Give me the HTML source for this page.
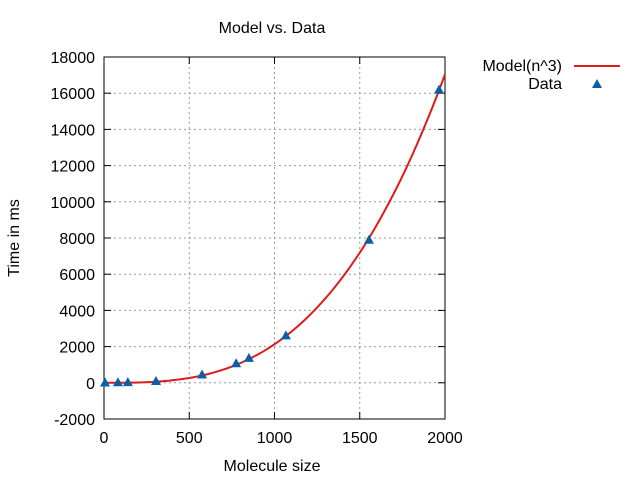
<!DOCTYPE html>
<html><head><meta charset="utf-8"><style>
body{margin:0;background:#fff}
svg{display:block;font-family:"Liberation Sans",sans-serif;font-size:16px}
</style></head><body>
<svg id="c" width="640" height="480">
<text x="272" y="33" text-anchor="middle">Model vs. Data</text>
<text x="272" y="471" text-anchor="middle">Molecule size</text>
<text transform="translate(19,238) rotate(-90)" text-anchor="middle">Time in ms</text>
<g id="grid"></g><g id="ticks"></g>
<rect x="104" y="57" width="341" height="362" fill="none" stroke="#000" stroke-width="1"/>
<g id="series"></g>
<g>
<text x="562" y="71" text-anchor="end">Model(n^3)</text>
<line x1="574" y1="66" x2="620" y2="66" stroke="#e01a1a" stroke-width="2"/>
<text x="562" y="89" text-anchor="end">Data</text>
<polygon points="597,79 602,88 592,88" fill="#0b5fa8"/>
</g>
</svg>
<script>
const xTicks=[0,500,1000,1500,2000];
const yTicks=[-2000,0,2000,4000,6000,8000,10000,12000,14000,16000,18000];
const dataX=[6,82,140,305,575,775,850,1067,1554,1965];
const dataY=[20,30,40,100,460,1080,1380,2620,7900,16200];
const modelCoef=[2.13e-6];
const L=104,R=445,T=57,B=419;
const sx=v=>L+(v-0)/2000*(R-L);
const sy=v=>B-(v+2000)/20000*(B-T);
const ns="http://www.w3.org/2000/svg";
function mk(t,a,p){const e=document.createElementNS(ns,t);for(const k in a)e.setAttribute(k,a[k]);p.appendChild(e);return e;}
const g=document.getElementById('grid'),tk=document.getElementById('ticks'),s=document.getElementById('series');
xTicks.forEach(v=>{const x=sx(v);
 if(v>0&&v<2000){const l=mk('line',{x1:x,y1:T,x2:x,y2:B,stroke:'#999','stroke-dasharray':'2,3'},g);
 
 }
 mk('line',{x1:x,y1:B,x2:x,y2:B-7,stroke:'#000'},tk);mk('line',{x1:x,y1:T,x2:x,y2:T+7,stroke:'#000'},tk);
 const t=mk('text',{x:x,y:B+24,'text-anchor':'middle'},tk);t.textContent=v;
 
 });
yTicks.forEach(v=>{const y=sy(v);
 if(v>-2000&&v<18000){const l=mk('line',{x1:L,y1:y,x2:R,y2:y,stroke:'#999','stroke-dasharray':'2,3'},g);
 
 }
 mk('line',{x1:L,y1:y,x2:L+7,y2:y,stroke:'#000'},tk);mk('line',{x1:R,y1:y,x2:R-7,y2:y,stroke:'#000'},tk);
 const t=mk('text',{x:L-9,y:y+6,'text-anchor':'end'},tk);t.textContent=v;
 
 });
let d='';for(let i=0;i<=100;i++){const n=i*20;d+=(i?'L':'M')+sx(n).toFixed(1)+','+sy(modelCoef[0]*n*n*n).toFixed(1);}
const p=mk('path',{d:d,fill:'none',stroke:'#e01a1a','stroke-width':2},s);


dataX.forEach((v,i)=>{const x=sx(v),y=sy(dataY[i]);
 const m=mk('polygon',{points:`${x},${y-5} ${x+5},${y+4} ${x-5},${y+4}`,fill:'#0b5fa8'},s);
 
 });
</script>
</body></html>
